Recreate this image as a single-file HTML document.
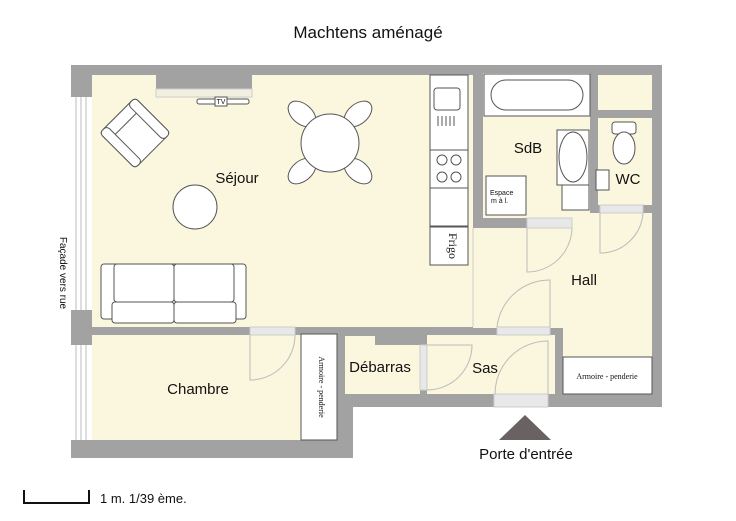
<!DOCTYPE html>
<html><head><meta charset="utf-8"><style>
html,body{margin:0;padding:0;background:#fff;}
svg{display:block;}
text{font-family:"Liberation Sans",sans-serif;fill:#111;}
</style></head><body>
<svg width="736" height="521" viewBox="0 0 736 521" xmlns="http://www.w3.org/2000/svg">
<text x="368" y="38" font-size="17" text-anchor="middle">Machtens aménagé</text>
<rect x="71" y="65" width="591" height="342" fill="#a2a2a2"/>
<rect x="71" y="330" width="282" height="128" fill="#a2a2a2"/>
<g fill="#fbf6de">
<rect x="92" y="75" width="381" height="252"/>
<rect x="473" y="228" width="179" height="100"/>
<rect x="563" y="213" width="89" height="144"/>
<rect x="483" y="73" width="107" height="145"/>
<rect x="598" y="75" width="54" height="35"/>
<rect x="598" y="118" width="54" height="87"/>
<rect x="92" y="335" width="210" height="105"/>
<rect x="345" y="336" width="75" height="58"/>
<rect x="427" y="335" width="128" height="59"/>
</g>
<rect x="375" y="334" width="45" height="11" fill="#a2a2a2"/>
<line x1="473" y1="228" x2="473" y2="327" stroke="#ccc" stroke-width="1"/>
<rect x="71" y="97" width="21" height="213" fill="#fff"/>
<g stroke="#bbb" stroke-width="1"><line x1="76" y1="97" x2="76" y2="310"/><line x1="81" y1="97" x2="81" y2="310"/><line x1="86" y1="97" x2="86" y2="310"/></g>
<rect x="71" y="345" width="21" height="95" fill="#fff"/>
<g stroke="#bbb" stroke-width="1"><line x1="76" y1="345" x2="76" y2="440"/><line x1="81" y1="345" x2="81" y2="440"/><line x1="86" y1="345" x2="86" y2="440"/></g>
<rect x="156" y="75" width="96" height="20" fill="#a2a2a2"/>
<rect x="156" y="89" width="96" height="8" fill="#f3efe0" stroke="#ccc"/>
<g fill="#e8e8e8" stroke="#ccc">
<rect x="250" y="327" width="45" height="8"/>
<rect x="527" y="218" width="45" height="10"/>
<rect x="600" y="205" width="43" height="8"/>
<rect x="497" y="327" width="53" height="8"/>
<rect x="494" y="394" width="54" height="13"/>
<rect x="420" y="345" width="7" height="45"/>
</g>
<g fill="none" stroke="#bbb" stroke-width="1">
<path d="M250 335 V380 A45 45 0 0 0 295 335"/>
<path d="M527 228 V272 A45 45 0 0 0 572 228"/>
<path d="M600 213 V253 A43 43 0 0 0 643 213"/>
<path d="M497 327 A53 53 0 0 1 550 280 V327"/>
<path d="M495 394 A53 53 0 0 1 548 341 V394"/>
<path d="M427 390 A45 45 0 0 0 472 345 H427"/>
</g>
<g fill="#fff" stroke="#555" stroke-width="1">
<rect x="430" y="75" width="38" height="75"/>
<rect x="434" y="88" width="26" height="22" rx="3"/>
<rect x="430" y="150" width="38" height="38"/>
<rect x="430" y="188" width="38" height="38"/>
<rect x="430" y="227" width="38" height="38"/>
</g>
<g fill="none" stroke="#555"><circle cx="442" cy="160" r="5"/><circle cx="456" cy="160" r="5"/><circle cx="442" cy="177" r="5"/><circle cx="456" cy="177" r="5"/>
<path d="M438 116v10M442 116v10M446 116v10M450 116v10M454 116v10"/></g>
<text x="449" y="246" font-size="12" style="font-family:'Liberation Serif',serif" transform="rotate(90 449 246)" text-anchor="middle">Frigo</text>
<g fill="#fff" stroke="#555" stroke-width="1">
<g transform="rotate(-45 135 133)"><rect x="110" y="108" width="50" height="50" rx="4"/><rect x="110" y="108" width="50" height="12" rx="4"/><rect x="110" y="108" width="10" height="50" rx="4"/><rect x="150" y="108" width="10" height="50" rx="4"/></g>
<rect x="197" y="99" width="52" height="5" rx="2"/><rect x="215" y="97" width="12" height="9"/>
<ellipse cx="302" cy="114" rx="10" ry="16" transform="rotate(-50 302 114)"/>
<ellipse cx="358" cy="114" rx="10" ry="16" transform="rotate(50 358 114)"/>
<ellipse cx="302" cy="171" rx="10" ry="16" transform="rotate(50 302 171)"/>
<ellipse cx="358" cy="171" rx="10" ry="16" transform="rotate(-50 358 171)"/>
<circle cx="330" cy="143" r="29"/>
<circle cx="195" cy="207" r="22"/>
<rect x="101" y="264" width="145" height="55" rx="3"/>
<rect x="114" y="264" width="60" height="38" rx="3"/><rect x="174" y="264" width="60" height="38" rx="3"/>
<rect x="112" y="302" width="62" height="21" rx="3"/><rect x="174" y="302" width="62" height="21" rx="3"/>
<rect x="484" y="74" width="106" height="42"/>
<rect x="491" y="80" width="92" height="30" rx="15"/>
<rect x="557" y="130" width="32" height="55"/><ellipse cx="573" cy="157" rx="14" ry="25"/>
<rect x="562" y="185" width="27" height="25"/>
<rect x="486" y="176" width="40" height="39"/>
<rect x="612" y="122" width="24" height="12" rx="3"/><ellipse cx="624" cy="148" rx="11" ry="16"/>
<rect x="596" y="170" width="13" height="20"/>
<rect x="301" y="334" width="36" height="106"/>
<rect x="563" y="357" width="89" height="37"/>
</g>
<text x="221" y="104" font-size="7" text-anchor="middle">TV</text>
<text x="490" y="195" font-size="7">Espace</text><text x="491" y="203" font-size="7">m à l.</text>
<text x="319" y="387" font-size="8" style="font-family:'Liberation Serif',serif" transform="rotate(90 319 387)" text-anchor="middle">Armoire - penderie</text>
<text x="607" y="379" font-size="8" style="font-family:'Liberation Serif',serif" text-anchor="middle">Armoire - penderie</text>
<g font-size="15">
<text x="237" y="183" text-anchor="middle">Séjour</text>
<text x="528" y="153" text-anchor="middle">SdB</text>
<text x="628" y="184" text-anchor="middle">WC</text>
<text x="584" y="285" text-anchor="middle">Hall</text>
<text x="198" y="394" text-anchor="middle">Chambre</text>
<text x="380" y="372" text-anchor="middle">Débarras</text>
<text x="485" y="373" text-anchor="middle">Sas</text>
<text x="526" y="459" text-anchor="middle">Porte d'entrée</text>
</g>
<polygon points="525,415 499,440 551,440" fill="#6a6262"/>
<text x="60" y="273" font-size="10" text-anchor="middle" transform="rotate(90 60 273)">Façade vers rue</text>
<path d="M24 490 V503 H89 V490" fill="none" stroke="#111" stroke-width="2"/>
<text x="100" y="503" font-size="13">1 m. 1/39 ème.</text>
</svg>
</body></html>
